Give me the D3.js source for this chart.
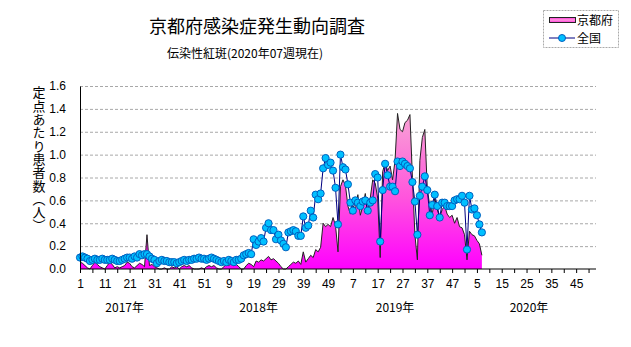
<!DOCTYPE html>
<html><head><meta charset="utf-8">
<script src="https://cdn.jsdelivr.net/npm/d3@7"></script>
<style>
html,body{margin:0;padding:0;background:#fff;}
svg{display:block;font-family:"Noto Sans CJK JP","Noto Sans",sans-serif;}
</style></head>
<body>
<svg id="chart" width="631" height="347"></svg>
<script>
// ---- data ----
const titleText = "京都府感染症発生動向調査";
const subtitleText = "伝染性紅斑(2020年07週現在)";
const yAxisLabel = "定点あたり患者数（人）";
const seriesNames = ["京都府", "全国"];
const yearLabels = ["2017年", "2018年", "2019年", "2020年"];
const yearLabelWeekIndex = [18, 72, 127, 181];
const weeksPerYear = [52, 52, 52, 53];
const xTickLabels = ["1","11","21","31","41","51","9","19","29","39","49","7","17","27","37","47","5","15","25","35","45"];
const yTicks = [0, 0.2, 0.4, 0.6, 0.8, 1.0, 1.2, 1.4, 1.6];

const kyoto2017 = [0.06,0.05,0.03,0.01,0.00,0.03,0.06,0.04,0.02,0.01,0.00,0.03,0.06,0.04,0.01,0.02,0.01,0.02,0.03,0.06,0.05,0.02,0.01,0.03,0.05,0.04,0.02,0.30,0.03,0.04,0.02,0.01,0.00,0.00,0.01,0.00,0.00,0.02,0.01,0.02,0.00,0.02,0.03,0.02,0.03,0.01,0.00,0.00,0.00,0.01,0.00,0.02];
const kyoto2018 = [0.03,0.02,0.03,0.01,0.00,0.00,0.02,0.04,0.03,0.05,0.03,0.04,0.02,0.00,0.00,0.03,0.05,0.04,0.02,0.07,0.06,0.08,0.07,0.09,0.11,0.08,0.09,0.07,0.05,0.02,0.00,0.00,0.02,0.04,0.06,0.05,0.07,0.04,0.15,0.06,0.09,0.12,0.10,0.17,0.15,0.19,0.40,0.37,0.39,0.37,0.45,0.38];
const kyoto2019 = [0.15,0.72,0.78,0.73,0.55,0.48,0.55,0.52,0.65,0.47,0.55,0.66,0.50,0.62,0.78,0.75,0.62,0.10,0.85,0.93,0.86,0.90,0.78,0.95,1.36,1.22,1.20,1.28,1.30,1.35,0.80,0.30,0.08,0.95,1.15,1.22,0.70,0.55,0.48,0.62,0.52,0.45,0.52,0.55,0.48,0.45,0.47,0.40,0.45,0.37,0.36,0.30];
const kyoto2020 = [0.08,0.33,0.30,0.29,0.25,0.22,0.12];

const zenkoku2017 = [0.10,0.11,0.10,0.09,0.07,0.08,0.09,0.08,0.08,0.09,0.08,0.08,0.08,0.09,0.08,0.07,0.07,0.08,0.09,0.10,0.10,0.09,0.11,0.10,0.13,0.12,0.13,0.13,0.11,0.09,0.08,0.05,0.07,0.08,0.07,0.07,0.06,0.06,0.06,0.05,0.06,0.07,0.08,0.07,0.08,0.08,0.09,0.09,0.10,0.09,0.09,0.08];
const zenkoku2018 = [0.09,0.10,0.09,0.08,0.07,0.06,0.07,0.06,0.08,0.07,0.06,0.08,0.08,0.09,0.12,0.13,0.14,0.13,0.26,0.21,0.24,0.27,0.24,0.36,0.40,0.34,0.34,0.26,0.30,0.25,0.22,0.19,0.32,0.33,0.34,0.33,0.29,0.29,0.46,0.36,0.38,0.51,0.45,0.65,0.61,0.66,0.88,0.97,0.91,0.93,0.86,0.71];
const zenkoku2019 = [0.39,1.00,0.89,0.87,0.74,0.58,0.51,0.60,0.58,0.55,0.59,0.60,0.51,0.58,0.60,0.83,0.80,0.24,0.69,0.92,0.82,0.72,0.72,0.68,0.94,0.90,0.94,0.92,0.90,0.88,0.76,0.59,0.30,0.64,0.72,0.81,0.69,0.47,0.56,0.65,0.55,0.45,0.58,0.58,0.55,0.55,0.55,0.60,0.61,0.61,0.64,0.58];
const zenkoku2020 = [0.17,0.64,0.52,0.53,0.47,0.39,0.32];

// ---- build ----
const kyoto = [].concat(kyoto2017, kyoto2018, kyoto2019, kyoto2020).map((v,i)=>({i, v}));
const zenkoku = [].concat(zenkoku2017, zenkoku2018, zenkoku2019, zenkoku2020).map((v,i)=>({i, v}));
const totalWeeks = d3.sum(weeksPerYear);

const svg = d3.select("#chart");
const x = d3.scaleLinear().domain([0, totalWeeks - 1]).range([80, 596]);
const y = d3.scaleLinear().domain([0, 1.6]).range([269, 86]);

const defs = svg.append("defs");
const grad = defs.append("linearGradient").attr("id","pinkGrad")
  .attr("gradientUnits","userSpaceOnUse").attr("x1",0).attr("x2",0)
  .attr("y1", y(0)).attr("y2", y(1.4));
grad.append("stop").attr("offset","0%").attr("stop-color","#ff00ff");
grad.append("stop").attr("offset","45%").attr("stop-color","#ff55dd");
grad.append("stop").attr("offset","100%").attr("stop-color","#f8a8d4");
const lgrad = defs.append("linearGradient").attr("id","legGrad").attr("x1",0).attr("x2",0).attr("y1",0).attr("y2",1);
lgrad.append("stop").attr("offset","0%").attr("stop-color","#ff33dd");
lgrad.append("stop").attr("offset","50%").attr("stop-color","#ff99dd");
lgrad.append("stop").attr("offset","100%").attr("stop-color","#ff33dd");

// title
svg.append("text").attr("x",257).attr("y",33).attr("text-anchor","middle")
  .attr("font-size",18).attr("fill","#000").text(titleText);
svg.append("text").attr("x",245).attr("y",58).attr("text-anchor","middle")
  .attr("font-size",12).attr("fill","#000").text(subtitleText);

// gridlines
svg.append("g").selectAll("line").data(yTicks.filter(d=>d>0)).join("line")
  .attr("x1", x(0)).attr("x2", x(totalWeeks-1))
  .attr("y1", d=>y(d)+0.5).attr("y2", d=>y(d)+0.5)
  .attr("stroke","#a8a8a8").attr("stroke-dasharray","3,2").attr("stroke-width",1);

// area
const area = d3.area().x(d=>x(d.i)).y0(y(0)).y1(d=>y(d.v));
svg.append("path").datum(kyoto).attr("d", area).attr("fill","url(#pinkGrad)");
svg.append("path").datum(kyoto).attr("d", d3.line().x(d=>x(d.i)).y(d=>y(d.v)))
  .attr("fill","none").attr("stroke","#222").attr("stroke-width",1);

// national line
svg.append("path").datum(zenkoku).attr("d", d3.line().x(d=>x(d.i)).y(d=>y(d.v)))
  .attr("fill","none").attr("stroke","#000080").attr("stroke-width",1);
svg.append("g").selectAll("circle").data(zenkoku).join("circle")
  .attr("cx", d=>x(d.i)).attr("cy", d=>y(d.v)).attr("r",3.6)
  .attr("fill","#00c0ff").attr("stroke","#0060c0").attr("stroke-width",1);

// axes
const yAxis = d3.axisLeft(y).tickValues(yTicks).tickFormat(d3.format(".1f")).tickSize(0).tickPadding(14);
const gy = svg.append("g").attr("transform",`translate(${x(0)},0)`).call(yAxis);
gy.select(".domain").attr("stroke","#000");
gy.selectAll("text").attr("font-size",12).attr("font-family","'Liberation Sans',sans-serif").attr("fill","#000");

const tickIdx = d3.range(0, totalWeeks, 5);
const labelMap = new Map(xTickLabels.map((l,k)=>[k*10, l]));
const xAxis = d3.axisBottom(x).tickValues(tickIdx).tickSize(4).tickPadding(6)
  .tickFormat(d => labelMap.get(d) || "");
const gx = svg.append("g").attr("transform",`translate(0,${y(0)})`).call(xAxis);
gx.select(".domain").attr("stroke","#000").attr("d", `M${x(0)},0H${x(totalWeeks-1)}`);
gx.selectAll("line").attr("stroke","#000");
gx.selectAll("text").attr("font-size",12).attr("font-family","'Liberation Sans',sans-serif").attr("fill","#000");

// year labels
svg.append("g").selectAll("text").data(yearLabels).join("text")
  .attr("x",(d,k)=>x(yearLabelWeekIndex[k])).attr("y",312).attr("text-anchor","middle")
  .attr("font-size",12).attr("fill","#000").text(d=>d);

// y label (vertical)
svg.append("text").attr("x",39).attr("y",86)
  .style("writing-mode","vertical-rl").style("glyph-orientation-vertical","0")
  .attr("font-size",13).attr("letter-spacing",0.3).attr("fill","#000").text(yAxisLabel);

// legend
const lg = svg.append("g");
lg.append("rect").attr("x",543.5).attr("y",10.5).attr("width",75).attr("height",37)
  .attr("fill","#fff").attr("stroke","#aaa").attr("stroke-dasharray","2,1");
lg.append("rect").attr("x",549.5).attr("y",17.5).attr("width",26).attr("height",5)
  .attr("fill","url(#legGrad)").attr("stroke","#222");
lg.append("text").attr("x",577).attr("y",25).attr("font-size",12).text(seriesNames[0]);
lg.append("line").attr("x1",549).attr("x2",575).attr("y1",38).attr("y2",38).attr("stroke","#000080");
lg.append("circle").attr("cx",562).attr("cy",38).attr("r",3.5).attr("fill","#00c0ff").attr("stroke","#0060c0");
lg.append("text").attr("x",577).attr("y",43).attr("font-size",12).text(seriesNames[1]);
</script>
</body></html>
